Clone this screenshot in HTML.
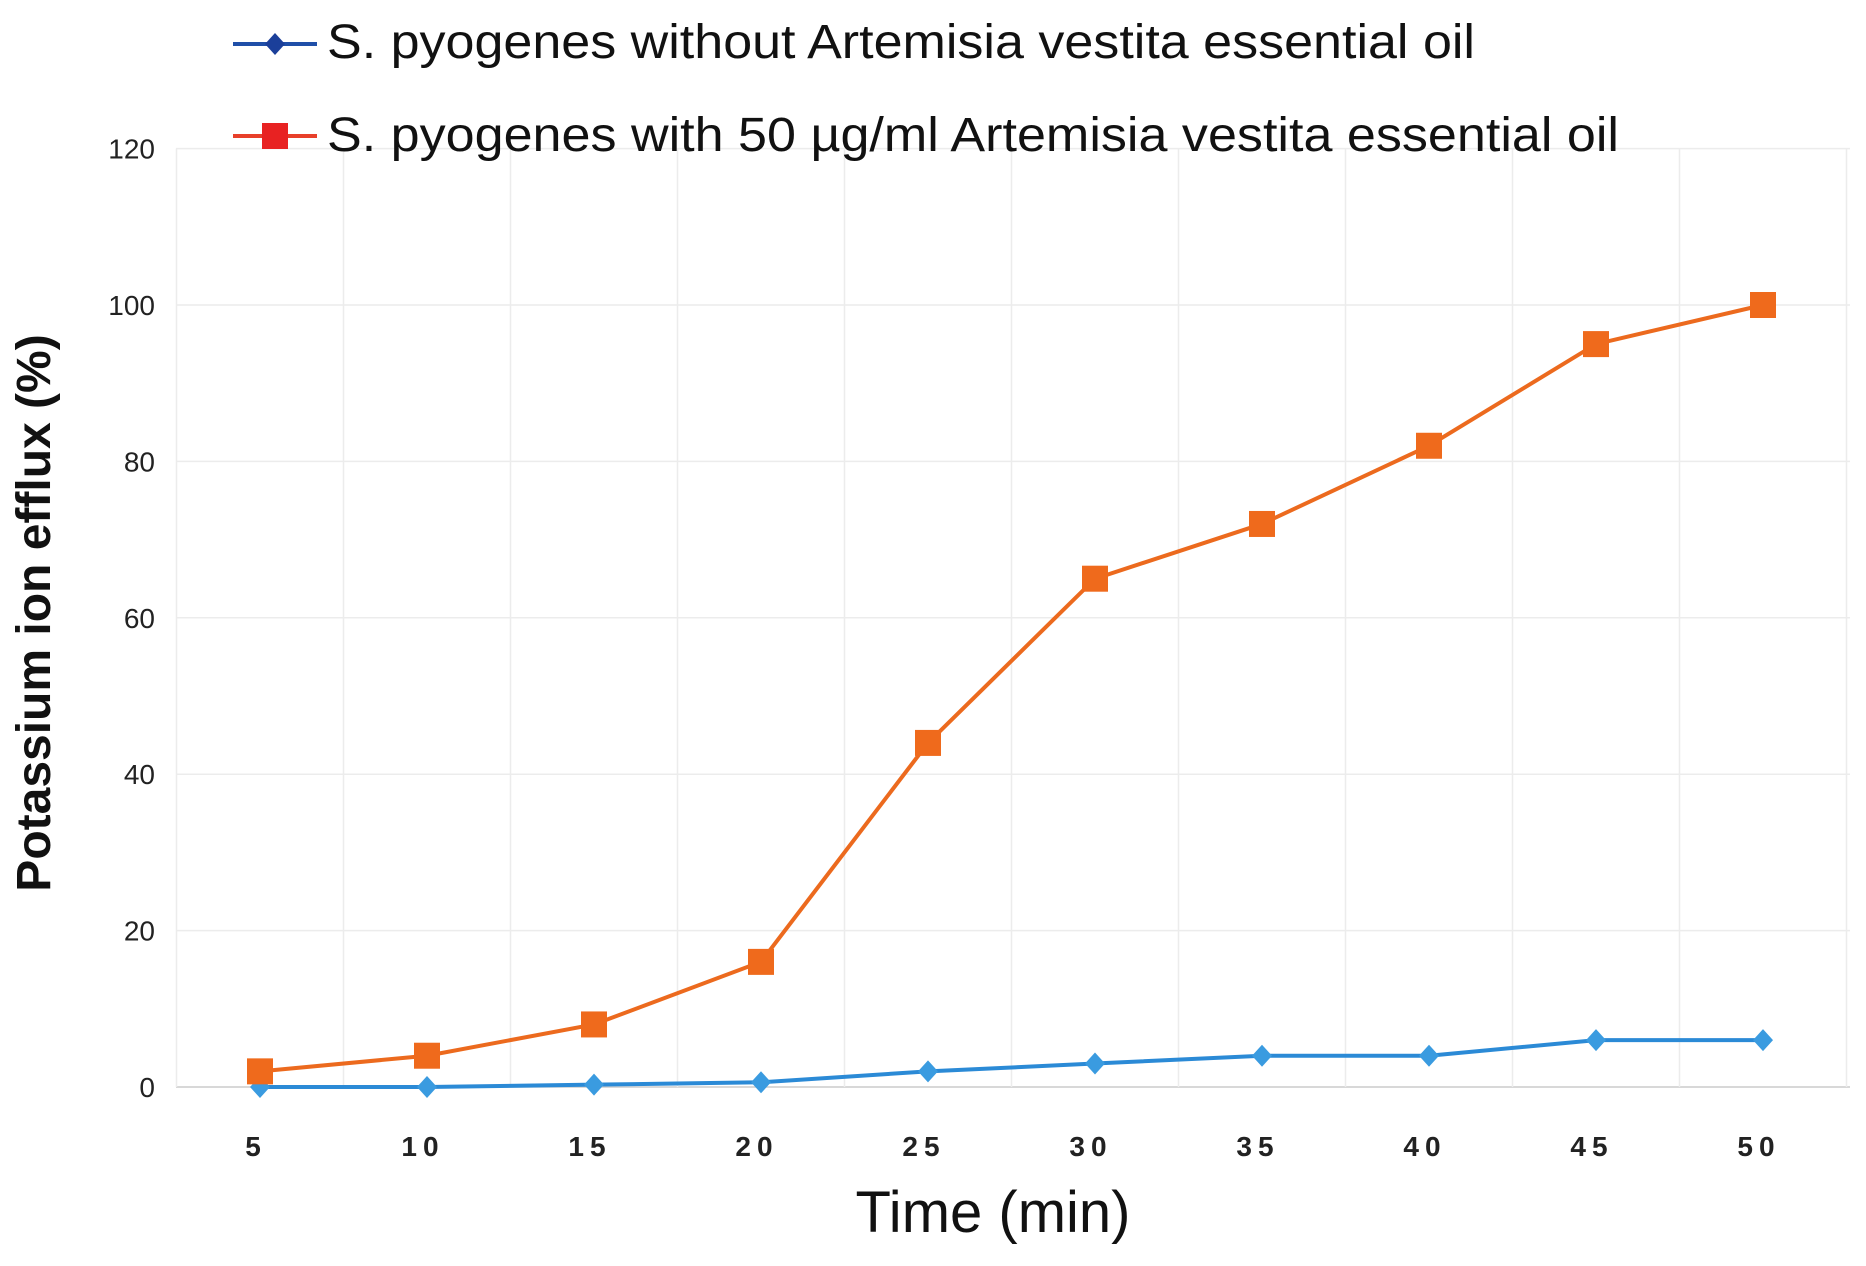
<!DOCTYPE html>
<html><head><meta charset="utf-8"><style>
html,body{margin:0;padding:0;background:#fff;}
svg{display:block;}
text{font-family:"Liberation Sans",sans-serif;}
</style></head><body>
<svg id="chart" width="1866" height="1266" viewBox="0 0 1866 1266" xmlns="http://www.w3.org/2000/svg">
<g id="grid"></g>
<g id="yticks"></g>
<g id="xticks"></g>
<g id="series"></g>
<g>
  <g>
    <line x1="233" y1="44" x2="317" y2="44" stroke="#1f4fa8" stroke-width="4"/>
    <polygon points="275,33 285,44 275,55 265,44" fill="#1b3f9a"/>
    <text x="327" y="58" font-size="48" textLength="1148" lengthAdjust="spacingAndGlyphs" fill="#111">S. pyogenes without Artemisia vestita essential oil</text>
  </g>
  <g>
    <line x1="233" y1="136" x2="317" y2="136" stroke="#e8402a" stroke-width="4"/>
    <rect x="262" y="123" width="26" height="26" fill="#e82222"/>
    <text x="327" y="151" font-size="48" textLength="1292" lengthAdjust="spacingAndGlyphs" fill="#111">S. pyogenes with 50 µg/ml Artemisia vestita essential oil</text>
  </g>
</g>
<text transform="translate(50,613) rotate(-90)" text-anchor="middle" font-size="48" font-weight="bold" fill="#111">Potassium ion efflux (%)</text>
<text x="993" y="1232" text-anchor="middle" font-size="58" fill="#111">Time (min)</text>
<script>
const categories = [5,10,15,20,25,30,35,40,45,50];
const withOil = [2,4,8,16,44,65,72,82,95,100];
const withoutOil = [0,0,0.3,0.6,2,3,4,4,6,6];
const yTicks = [0,20,40,60,80,100,120];

const NS = 'http://www.w3.org/2000/svg';
const x0 = 260, step = 167, yBase = 1087, yPer = 7.82;
function xs(i){ return x0 + i*step; }
function ys(v){ return yBase - v*yPer; }
function mk(tag, attrs, parent){ const e=document.createElementNS(NS,tag); for(const k in attrs) e.setAttribute(k,attrs[k]); parent.appendChild(e); return e; }

const grid = document.getElementById('grid');
yTicks.forEach(v=>{
  const l = mk('line',{x1:176,x2:1850,y1:ys(v),y2:ys(v),stroke:v===0?'#cccccc':'#ececec','stroke-width':1.5},grid);
  
  
});
for(let i=0;i<=categories.length;i++){
  const x = xs(i)-step/2;
  const l = mk('line',{x1:x,x2:x,y1:ys(yTicks[yTicks.length-1]),y2:ys(0),stroke:'#ececec','stroke-width':1.5},grid);
  
  
}
const yt = document.getElementById('yticks');
yTicks.forEach(v=>{
  const t = mk('text',{x:155,y:ys(v)+10,'text-anchor':'end','font-size':28,fill:'#222'},yt);
  t.textContent = v;
  
  
});
const xt = document.getElementById('xticks');
categories.forEach((c,i)=>{
  const t = mk('text',{x:xs(i)-4,y:1156,'text-anchor':'middle','font-size':28,'font-weight':'bold',fill:'#222','letter-spacing':'6'},xt);
  t.textContent = c;
  
  
});
const sg = document.getElementById('series');
function drawLine(vals,color,name){
  const p = mk('polyline',{points:vals.map((v,i)=>xs(i)+','+ys(v)).join(' '),fill:'none',stroke:color,'stroke-width':4},sg);
  
  
}
drawLine(withoutOil,'#2b8ad6','line-without-oil');
withoutOil.forEach((v,i)=>{
  const x=xs(i), y=ys(v);
  const d = mk('polygon',{points:`${x},${y-11} ${x+10},${y} ${x},${y+11} ${x-10},${y}`,fill:'#3a9be0'},sg);
  
  
});
drawLine(withOil,'#ec6a1e','line-with-oil');
withOil.forEach((v,i)=>{
  const x=xs(i), y=ys(v);
  const r = mk('rect',{x:x-13,y:y-13,width:26,height:26,fill:'#ef6a1c'},sg);
  
  
});
</script>
</svg>
</body></html>
